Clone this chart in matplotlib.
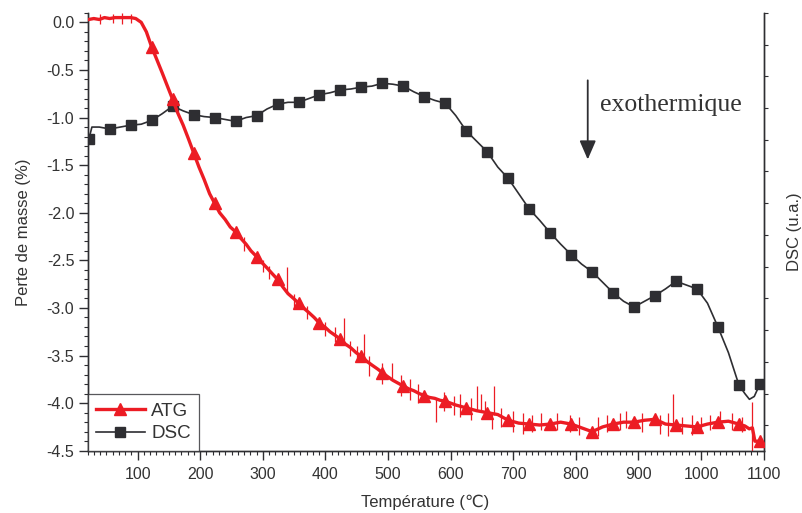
import numpy as np
import matplotlib
matplotlib.use("Agg")
import matplotlib.pyplot as plt
from matplotlib.ticker import MultipleLocator, FixedLocator, NullFormatter

plt.rcParams['font.family'] = ['Liberation Sans', 'DejaVu Sans']

# ---- data -------------------------------------------------------------
marker_temp = [22, 55.5, 89, 122.5, 156, 189.5, 223, 256.5, 290, 323.5, 357, 390.5,
               424, 457.5, 491, 524.5, 558, 591.5, 625, 658.5, 692, 725.5, 759, 792.5,
               826, 859.5, 893, 926.5, 960, 993.5, 1027, 1060.5, 1094]

atg_temp = [22, 30, 38.75, 47, 55.5, 64, 72.25, 80, 89, 97, 105.75, 114, 122.5, 130,
            139.25, 147, 156, 164, 172.75, 181, 189.5, 198, 206.25, 215, 223, 231,
            239.75, 248, 256.5, 265, 273.25, 281, 290, 298, 306.75, 315, 323.5, 332,
            340.25, 349, 357, 365, 373.75, 382, 390.5, 399, 407.25, 416, 424, 432,
            440.75, 449, 457.5, 466, 474.25, 483, 491, 499, 507.75, 516, 524.5, 533,
            541.25, 550, 558, 566, 574.75, 583, 591.5, 608.25, 625, 641.75, 658.5,
            675.25, 692, 708.75, 725.5, 742.25, 759, 775.75, 792.5, 809.25, 826,
            842.75, 859.5, 876.25, 893, 909.75, 926.5, 943.25, 960, 976.75, 993.5,
            1010.25, 1027, 1043.75, 1060.5, 1070, 1077, 1082, 1086, 1094, 1100]
atg_mass = [0.03, 0.04, 0.03, 0.05, 0.04, 0.05, 0.05, 0.05, 0.05, 0.04, 0.00, -0.10,
            -0.26, -0.38, -0.53, -0.66, -0.81, -0.95, -1.08, -1.22, -1.37, -1.52,
            -1.65, -1.80, -1.90, -2.00, -2.07, -2.15, -2.20, -2.27, -2.33, -2.40,
            -2.46, -2.52, -2.58, -2.64, -2.70, -2.78, -2.85, -2.90, -2.95, -3.00,
            -3.05, -3.10, -3.16, -3.20, -3.25, -3.29, -3.33, -3.38, -3.42, -3.47,
            -3.51, -3.56, -3.60, -3.64, -3.68, -3.72, -3.76, -3.79, -3.82, -3.85,
            -3.87, -3.90, -3.92, -3.94, -3.95, -3.97, -3.98, -4.02, -4.05, -4.08,
            -4.10, -4.12, -4.18, -4.21, -4.22, -4.23, -4.22, -4.20, -4.22, -4.26,
            -4.30, -4.25, -4.22, -4.20, -4.20, -4.18, -4.17, -4.22, -4.23, -4.24,
            -4.25, -4.22, -4.20, -4.19, -4.22, -4.24, -4.27, -4.26, -4.40, -4.40,
            -4.42]

# visible spikes / noise excursions of the ATG signal: temperature, low end, high end
spike_temp = [40, 60, 75, 90, 270, 300, 310, 338, 350, 370, 400, 415, 429, 440, 450,
              461, 470, 490, 506, 520, 535, 548, 576, 590, 605, 615, 632, 642, 648,
              655, 666, 669, 680, 700, 715, 730, 745, 770, 790, 805, 835, 850, 870,
              880, 905, 935, 948, 955, 970, 985, 1000, 1015, 1030, 1050, 1065, 1082]
spike_low = [-0.02, -0.01, -0.02, -0.01, -2.40, -2.62, -2.70, -2.83, -3.00, -3.12,
             -3.30, -3.36, -3.38, -3.50, -3.55, -3.55, -3.72, -3.80, -3.75, -3.92,
             -3.97, -4.00, -4.20, -4.08, -4.12, -4.15, -4.18, -4.08, -4.08, -4.15,
             -4.27, -4.12, -4.25, -4.30, -4.32, -4.30, -4.28, -4.28, -4.30, -4.33,
             -4.35, -4.30, -4.28, -4.26, -4.30, -4.32, -4.35, -4.25, -4.32, -4.33,
             -4.30, -4.28, -4.25, -4.28, -4.30, -4.50]
spike_high = [0.09, 0.09, 0.10, 0.09, -2.25, -2.50, -2.56, -2.57, -2.85, -2.98,
              -3.15, -3.20, -3.11, -3.35, -3.40, -3.27, -3.50, -3.58, -3.58, -3.70,
              -3.75, -3.80, -3.95, -3.88, -3.92, -3.90, -3.95, -3.82, -3.90, -3.98,
              -4.10, -3.82, -4.05, -4.08, -4.10, -4.12, -4.10, -4.10, -4.12, -4.15,
              -4.15, -4.12, -4.10, -4.08, -4.10, -4.12, -4.10, -3.90, -4.15, -4.12,
              -4.15, -4.12, -4.08, -4.10, -4.15, -3.99]

dsc_temp = [22, 27, 38.75, 55.5, 72.25, 89, 105.75, 122.5, 139.25, 156, 172.75,
            189.5, 206.25, 223, 239.75, 256.5, 273.25, 290, 306.75, 323.5, 340.25,
            357, 373.75, 390.5, 407.25, 424, 440.75, 457.5, 474.25, 491, 507.75,
            524.5, 541.25, 558, 574.75, 591.5, 608.25, 625, 641.75, 658.5, 675.25,
            692, 708.75, 725.5, 742.25, 759, 775.75, 792.5, 809.25, 826, 842.75,
            859.5, 876.25, 893, 909.75, 926.5, 943.25, 960, 976.75, 993.5, 1010.25,
            1027, 1043.75, 1060.5, 1070, 1077.25, 1085, 1094, 1100]
dsc_signal = [-1.23, -1.10, -1.10, -1.12, -1.10, -1.08, -1.07, -1.03, -0.96, -0.88,
              -0.93, -0.97, -0.99, -1.00, -1.02, -1.04, -1.00, -0.98, -0.91, -0.86,
              -0.84, -0.84, -0.80, -0.76, -0.74, -0.71, -0.70, -0.68, -0.67, -0.64,
              -0.65, -0.67, -0.73, -0.78, -0.82, -0.85, -0.98, -1.14, -1.25, -1.36,
              -1.52, -1.64, -1.80, -1.96, -2.08, -2.21, -2.33, -2.44, -2.54, -2.62,
              -2.73, -2.84, -2.93, -2.99, -2.93, -2.87, -2.80, -2.72, -2.76, -2.80,
              -2.95, -3.20, -3.47, -3.81, -3.90, -3.96, -3.93, -3.80, -3.78]

x_ticks = [100, 200, 300, 400, 500, 600, 700, 800, 900, 1000, 1100]
y_ticks = [0.0, -0.5, -1.0, -1.5, -2.0, -2.5, -3.0, -3.5, -4.0, -4.5]

# ---- figure -----------------------------------------------------------
red = '#ec1c24'
dark = '#2e2e32'
txt = '#333333'

fig = plt.figure(figsize=(8.03, 5.13), dpi=100)
ax = fig.add_axes([0.109, 0.1214, 0.842, 0.8536])

# ATG triangles are only visible from the start of the mass loss onward
atg_marks = list(np.nonzero(np.isin(atg_temp, marker_temp[3:]))[0])
dsc_marks = list(np.nonzero(np.isin(dsc_temp, marker_temp))[0])

ax.vlines(spike_temp, spike_low, spike_high, color=red, lw=0.9, zorder=2)
l1, = ax.plot(atg_temp, atg_mass, color=red, lw=2.4, marker='^', ms=8,
              markevery=atg_marks, label='ATG', zorder=3)

ax2 = ax.twinx()
l2, = ax2.plot(dsc_temp, dsc_signal, color=dark, lw=1.2, marker='s', ms=6.5,
               markevery=dsc_marks, label='DSC', zorder=3)

for a in (ax, ax2):
    a.set_xlim(20, 1100)
    a.set_ylim(-4.5, 0.10)
    a.spines['top'].set_visible(False)
    for s in a.spines.values():
        s.set_color(dark)
        s.set_linewidth(1.0)

ax.set_xticks(x_ticks)
ax.set_yticks(y_ticks)
ax.set_yticklabels([f'{v:.1f}' for v in y_ticks])
ax.xaxis.set_minor_locator(MultipleLocator(10))
ax.yaxis.set_minor_locator(MultipleLocator(0.1))
ax.tick_params(axis='both', which='major', direction='out', length=6.5, width=1,
               color=dark, labelsize=11.5, labelcolor=txt)
ax.tick_params(axis='both', which='minor', direction='out', length=3.2, width=0.8,
               color=dark)
ax.tick_params(axis='x', pad=5)
ax.tick_params(axis='y', pad=3)

ax2.yaxis.set_major_locator(FixedLocator(list(np.arange(0.10, -4.5, -1/3))))
ax2.yaxis.set_major_formatter(NullFormatter())
ax2.tick_params(axis='y', which='major', direction='out', length=3, width=0.8,
                color=dark)

ax.set_xlabel('Température (℃)', fontsize=12, color=txt, labelpad=9)
ax.set_ylabel('Perte de masse (%)', fontsize=12, color=txt, labelpad=11)
ax2.set_ylabel('DSC (u.a.)', fontsize=12, color=txt, labelpad=10)

leg = ax.legend([l1, l2], ['ATG', 'DSC'], loc='lower left', bbox_to_anchor=(0, 0),
                borderaxespad=0, frameon=True, fancybox=False, fontsize=13.5,
                handlelength=2.6, handletextpad=0.35, borderpad=0.45,
                labelspacing=0.3, labelcolor=txt)
leg.get_frame().set_edgecolor(dark)
leg.get_frame().set_linewidth(0.9)
leg.set_zorder(10)

ax.set_zorder(ax2.get_zorder() + 1)
ax.patch.set_visible(False)

ax.annotate('', xy=(819, -1.47), xytext=(819, -0.58),
            arrowprops=dict(arrowstyle='-|>,head_width=0.5,head_length=1.15',
                            color=dark, lw=1.3))
ax.text(839, -0.87, 'exothermique', family='Liberation Serif', fontsize=18.5,
        color=txt, va='center', ha='left')

fig.savefig('out.png', dpi=100)
